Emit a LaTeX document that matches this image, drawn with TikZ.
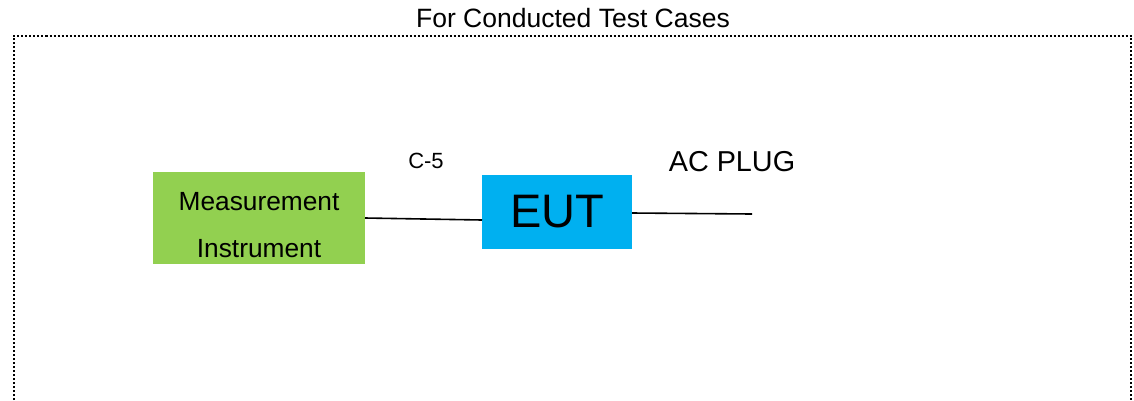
\documentclass[tikz,border=0pt]{standalone}
\usepackage{fontspec}
\setmainfont{Liberation Sans}
\usetikzlibrary{positioning}
\definecolor{measgreen}{HTML}{92D050}
\definecolor{eutblue}{HTML}{00B0F0}
\def\frameL{14}
\def\frameR{1131}
\def\frameT{35.5}
\def\frameB{400}

\begin{document}
\begin{tikzpicture}[x=1pt,y=-1pt,
    unitbox/.style={inner sep=0pt, outer sep=0pt, align=center},
    cable/.style={line width=1.6pt},
    lbl/.style={inner sep=0pt}]
    \useasboundingbox (0,0) rectangle (1134,400);
    % dotted frame, open at the bottom
    \draw[line width=2pt, dash pattern=on 2pt off 2pt]
        (\frameL,\frameB) -- (\frameL,\frameT) -- (\frameR,\frameT) -- (\frameR,\frameB);
    \node[lbl, font=\fontsize{26.5}{30}\selectfont] (title) at (573,18) {For Conducted Test Cases};

    \node[unitbox, fill=measgreen, minimum width=212pt, minimum height=92pt,
          font=\fontsize{26.3}{47}\selectfont]
        (meas) at (259,218) {\rule{0pt}{33pt}Measurement\\Instrument};
    \node[unitbox, fill=eutblue, minimum width=150pt, minimum height=74pt,
          font=\fontsize{47}{50}\selectfont]
        (eut) at (557,212) {EUT};
    \coordinate (plug) at (752,214);

    \draw[cable] (meas.east) -- ([yshift=-8pt]eut.west);
    \draw[cable] ([yshift=-1pt]eut.east) -- (plug);

    \node[lbl, font=\fontsize{22}{26}\selectfont] (c5) at (426,161) {C-5};
    \node[lbl, font=\fontsize{28.8}{32}\selectfont] (acplug) at (732,162) {AC PLUG};
\end{tikzpicture}
\end{document}
